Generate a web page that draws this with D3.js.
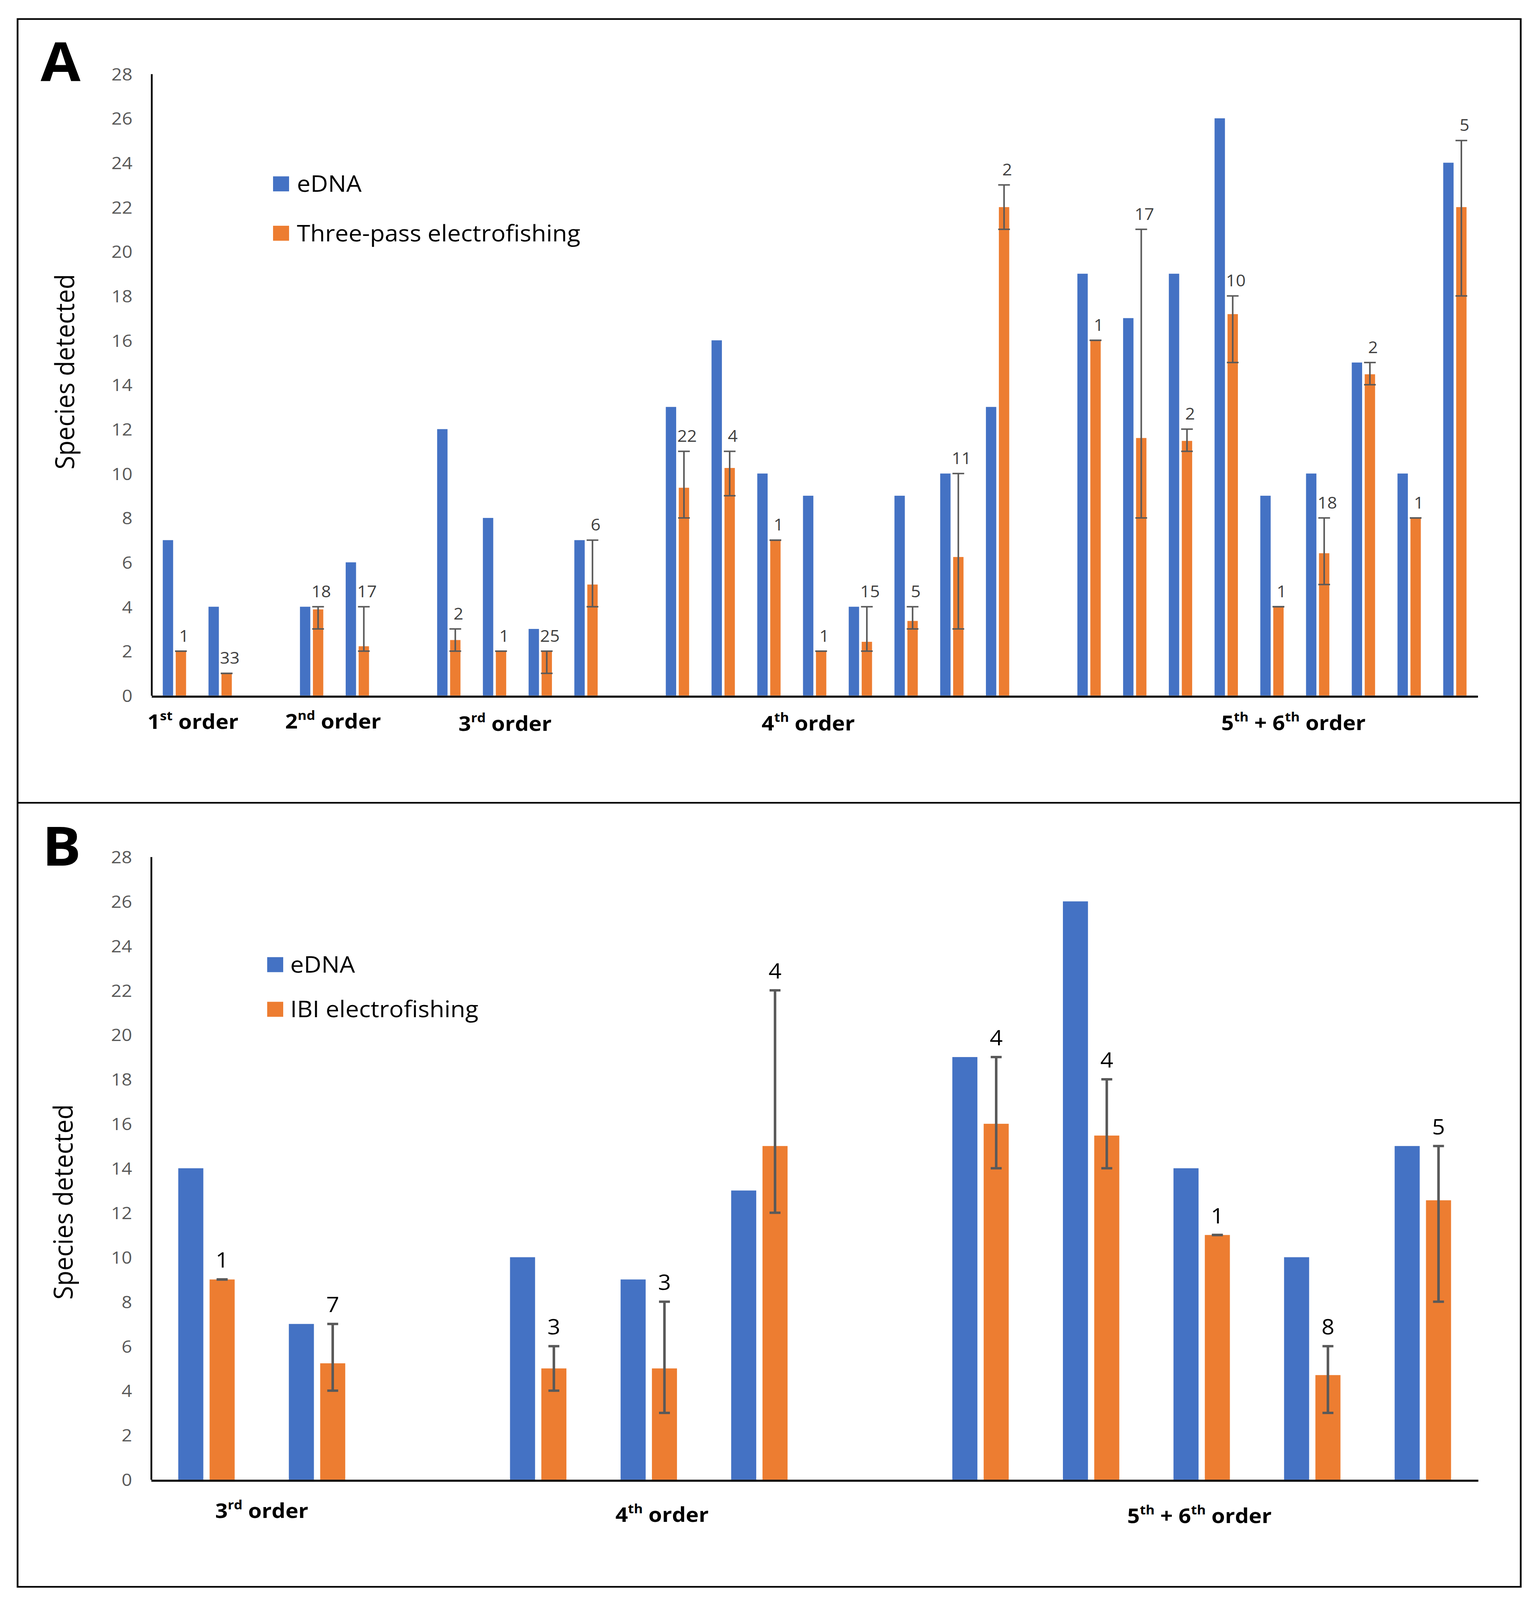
<!DOCTYPE html>
<html>
<head>
<meta charset="utf-8">
<script src="https://cdn.jsdelivr.net/npm/d3@7"></script>
<style>
  html, body { margin: 0; padding: 0; background: #fff; overflow: hidden; }
  svg { display: block; }
  text { font-family: "Open Sans", "Noto Sans", "DejaVu Sans", sans-serif; }
</style>
</head>
<body>
<script>
// ---------------- DATA ----------------
// Panel A: eDNA vs three-pass electrofishing
const groupA   = [1,1, 2,2, 3,3,3,3, 4,4,4,4,4,4,4,4, 5,5,5,5,5,5,5,5,5];
const ednaA    = [7,4, 4,6, 12,8,3,7, 13,16,10,9,4,9,10,13, 19,17,19,26,9,10,15,10,24];
const efishA   = [2,1, 3.88,2.22, 2.5,2,2,5, 9.36,10.25,7,2,2.42,3.36,6.24,22, 16,11.6,11.47,17.18,4,6.41,14.47,8,22];
const errLowA  = [2,1, 3,2, 2,2,1,4, 8,9,7,2,2,3,3,21, 16,8,11,15,4,5,14,8,18];
const errHighA = [2,1, 4,4, 3,2,2,7, 11,11,7,2,4,4,10,23, 16,21,12,18,4,8,15,8,25];
const nA       = [1,33, 18,17, 2,1,25,6, 22,4,1,1,15,5,11,2, 1,17,2,10,1,18,2,1,5];
const orderLabelsA = [["1","st"," order"],["2","nd"," order"],["3","rd"," order"],["4","th"," order"],["5","th"," + 6","th"," order"]];
const seriesA = ["eDNA","Three-pass electrofishing"];

// Panel B: eDNA vs IBI electrofishing
const groupB   = [3,3, 4,4,4, 5,5,5,5,5];
const ednaB    = [14,7, 10,9,13, 19,26,14,10,15];
const efishB   = [9,5.23, 5,5,15, 16,15.47,11,4.7,12.56];
const errLowB  = [9,4, 4,3,12, 14,14,11,3,8];
const errHighB = [9,7, 6,8,22, 19,18,11,6,15];
const nB       = [1,7, 3,3,4, 4,4,1,8,5];
const orderLabelsB = [["3","rd"," order"],["4","th"," order"],["5","th"," + 6","th"," order"]];
const seriesB = ["eDNA","IBI electrofishing"];

const yTicks = [0,2,4,6,8,10,12,14,16,18,20,22,24,26,28];
const yTitle = "Species detected";

// ---------------- STYLE / LAYOUT ----------------
const W = 3927, H = 4373;
const BLUE = "#4472C4", ORANGE = "#ED7D31", ERR = "#595959";

// the drawing is laid out on a 3927x4373 canvas and stretched to fill the actual viewport
const vw = window.innerWidth || W, vh = window.innerHeight || H;
const svg = d3.select("body").append("svg")
  .attr("width", vw).attr("height", vh)
  .attr("viewBox", `0 0 ${W} ${H}`)
  .attr("preserveAspectRatio", "none");
svg.append("rect").attr("width", W).attr("height", H).attr("fill", "#fff");

// outer frame and separator
svg.append("rect").attr("x", 45).attr("y", 52).attr("width", 3893 - 45).attr("height", 4337 - 52)
  .attr("fill", "none").attr("stroke", "#000").attr("stroke-width", 4.5);
svg.append("line").attr("x1", 45).attr("x2", 3893).attr("y1", 2194).attr("y2", 2194)
  .attr("stroke", "#000").attr("stroke-width", 4.5);

function buildSlots(groups) {
  const slots = [];
  groups.forEach((g, i) => {
    if (i > 0 && g !== groups[i - 1]) slots.push("gap" + i);
    slots.push("s" + i);
  });
  return slots;
}

function drawPanel(cfg) {
  const g = svg.append("g");
  const slots = buildSlots(cfg.groups);
  const x = d3.scaleBand().domain(slots).range([cfg.x0, cfg.x1]).paddingInner(0).paddingOuter(0);
  const pairW = x.bandwidth() * 0.51;
  const xs = d3.scaleBand().domain(["edna", "ef"]).range([0, pairW]).paddingInner(0.2);
  const off = (x.bandwidth() - pairW) / 2;
  const y = d3.scaleLinear().domain([0, 28]).range([cfg.yZero, cfg.yTop]);

  const rows = cfg.edna.map((v, i) => ({
    key: "s" + i, edna: v, ef: cfg.efish[i], lo: cfg.lo[i], hi: cfg.hi[i], n: cfg.n[i]
  }));

  g.selectAll(".bEdna").data(rows).join("rect")
    .attr("x", d => x(d.key) + off + xs("edna"))
    .attr("width", xs.bandwidth())
    .attr("y", d => y(d.edna))
    .attr("height", d => y(0) - y(d.edna))
    .attr("fill", BLUE);
  g.selectAll(".bEf").data(rows).join("rect")
    .attr("x", d => x(d.key) + off + xs("ef"))
    .attr("width", xs.bandwidth())
    .attr("y", d => y(d.ef))
    .attr("height", d => y(0) - y(d.ef))
    .attr("fill", ORANGE);

  const cx = d => x(d.key) + off + xs("ef") + xs.bandwidth() / 2;
  const capHalf = cfg.capW / 2;
  const eg = g.append("g").attr("stroke", ERR).attr("stroke-width", cfg.errW);
  rows.forEach(d => {
    const c = cx(d);
    if (d.hi > d.lo) {
      eg.append("line").attr("x1", c).attr("x2", c).attr("y1", y(d.lo)).attr("y2", y(d.hi));
    }
    eg.append("line").attr("x1", c - capHalf).attr("x2", c + capHalf).attr("y1", y(d.lo)).attr("y2", y(d.lo));
    eg.append("line").attr("x1", c - capHalf).attr("x2", c + capHalf).attr("y1", y(d.hi)).attr("y2", y(d.hi));
  });

  g.selectAll(".nlab").data(rows).join("text")
    .attr("x", d => cx(d) + cfg.labDx)
    .attr("y", d => y(Math.max(d.hi, d.ef)) - cfg.labDy)
    .attr("text-anchor", "middle")
    .attr("font-size", cfg.labFs)
    .attr("fill", cfg.labColor)
    .text(d => d.n);

  const ya = g.append("g").attr("transform", `translate(${cfg.x0},0)`)
    .call(d3.axisLeft(y).tickValues(yTicks).tickSize(0).tickSizeOuter(0).tickPadding(49));
  ya.select(".domain").attr("stroke", "#000").attr("stroke-width", 4.5);
  ya.selectAll(".tick text").attr("font-size", 47).attr("fill", "#595959")
    .attr("font-family", '"Open Sans", "Noto Sans", sans-serif').attr("dy", "0.36em");

  const xa = g.append("g").attr("transform", `translate(0,${cfg.yZero + 2.5})`)
    .call(d3.axisBottom(x).tickValues([]).tickSizeOuter(0));
  xa.select(".domain").attr("stroke", "#000").attr("stroke-width", 5.5);

  cfg.orderLabels.forEach((parts, i) => {
    const t = g.append("text")
      .attr("x", cfg.x0 + cfg.groupLabelPos[i] * x.step())
      .attr("y", cfg.yZero + cfg.groupLabelDy[i])
      .attr("text-anchor", "middle")
      .attr("font-size", cfg.groupFs)
      .attr("font-weight", "bold")
      .attr("fill", "#000");
    parts.forEach((p, k) => {
      const sup = k % 2 === 1;
      const prevSup = k > 0 && (k - 1) % 2 === 1;
      const ts = t.append("tspan").text(p);
      if (sup) ts.attr("font-size", cfg.groupFs * 0.62).attr("dy", -cfg.groupFs * 0.42);
      else if (prevSup) ts.attr("dy", cfg.groupFs * 0.42);
    });
  });

  g.append("text")
    .attr("transform", `translate(${cfg.titleX},${cfg.titleY}) rotate(-90)`)
    .attr("text-anchor", "middle")
    .attr("font-size", 68)
    .attr("fill", "#000")
    .text(yTitle);

  g.append("text").attr("x", cfg.letterX).attr("y", cfg.letterY)
    .attr("font-size", 148).attr("font-weight", "bold").attr("fill", "#000")
    .text(cfg.letter);

  const colors = [BLUE, ORANGE];
  cfg.series.forEach((s, i) => {
    const ly = cfg.legY[i];
    g.append("rect").attr("x", cfg.legX).attr("y", ly).attr("width", 41).attr("height", 41)
      .attr("fill", colors[i]);
    g.append("text").attr("x", cfg.legTextX).attr("y", ly + 20.5 + 22)
      .attr("font-size", 62).attr("fill", "#000").text(s);
  });
}

drawPanel({
  groups: groupA, edna: ednaA, efish: efishA, lo: errLowA, hi: errHighA, n: nA,
  orderLabels: orderLabelsA, series: seriesA,
  x0: 388, x1: 3783, yTop: 202, yZero: 1901,
  capW: 30, errW: 4, labDx: 8, labDy: 26, labFs: 44, labColor: "#404040",
  groupLabelPos: [0.906, 3.97, 7.73, 14.36, 24.97],
  groupLabelDy: [91, 90, 97, 95, 94], groupFs: 56,
  titleX: 190, titleY: 1016,
  letter: "A", letterX: 104, letterY: 222,
  legX: 699, legY: [482, 617], legTextX: 760
});

drawPanel({
  groups: groupB, edna: ednaB, efish: efishB, lo: errLowB, hi: errHighB, n: nB,
  orderLabels: orderLabelsB, series: seriesB,
  x0: 387, x1: 3784, yTop: 2342, yZero: 4044,
  capW: 28, errW: 6.5, labDx: 0, labDy: 32, labFs: 58, labColor: "#000",
  groupLabelPos: [1.0, 4.62, 9.48],
  groupLabelDy: [105, 116, 119], groupFs: 56,
  titleX: 186, titleY: 3285,
  letter: "B", letterX: 108, letterY: 2366,
  legX: 684, legY: [2616, 2738], legTextX: 743
});
</script>
</body>
</html>
